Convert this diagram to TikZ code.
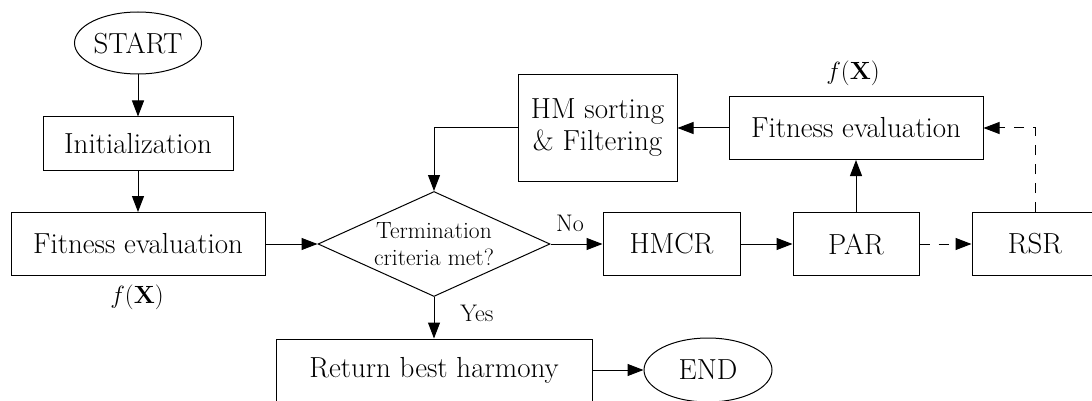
\documentclass[tikz,border=0pt]{standalone}
\usetikzlibrary{arrows.meta,shapes.geometric}
\tikzset{
  base/.style={draw, line width=1pt, inner sep=0pt, align=center,
    font=\fontsize{29}{32}\selectfont},
  box/.style={base, rectangle},
  oval/.style={base, ellipse},
  decision/.style={base, diamond, aspect=2.2,
    font=\fontsize{23.5}{27}\selectfont},
  conn/.style={line width=1pt, -{Triangle[length=16pt,width=12pt]}},
  dconn/.style={conn, dash pattern=on 10pt off 9pt},
  lbl/.style={inner sep=0pt, font=\fontsize{24}{26}\selectfont},
  fx/.style={inner sep=0pt, font=\fontsize{25}{28}\selectfont},
}
\begin{document}
\begin{tikzpicture}[x=1pt,y=-1pt]
\useasboundingbox (0,0) rectangle (1092,401);
\clip (0,0) rectangle (1092,401);
\node[oval, minimum width=127pt, minimum height=62pt] (start) at (138,43) {START};
\node[box, minimum width=190pt, minimum height=53pt] (init) at (138,143.5) {Initialization};
\node[box, minimum width=254pt, minimum height=63pt] (fit1) at (138,244) {Fitness evaluation};
\node[fx] (fx1) at (137,297) {$f(\mathbf{X})$};
\node[decision, minimum width=232pt, minimum height=105pt] (dia) at (434,244) {Termination\\criteria met?};
\node[box, minimum width=137pt, minimum height=63pt] (hmcr) at (671.5,244) {HMCR};
\node[box, minimum width=126pt, minimum height=63pt] (par) at (856,244) {PAR};
\node[box, minimum width=126pt, minimum height=63pt] (rsr) at (1035,244) {RSR};
\node[box, minimum width=254pt, minimum height=63pt] (fit2) at (856,128) {Fitness evaluation};
\node[fx] (fx2) at (853,73) {$f(\mathbf{X})$};
\node[box, minimum width=159pt, minimum height=106pt] (hm) at (597.5,128) {HM sorting\\\& Filtering};
\node[box, minimum width=316pt, minimum height=62pt] (ret) at (434,370) {Return best harmony};
\node[oval, minimum width=128pt, minimum height=64pt] (end) at (708,370) {END};
\node[lbl] (no) at (570,223) {No};
\node[lbl] (yes) at (477,313) {Yes};

\draw[conn] (start) -- (init);
\draw[conn] (init) -- (fit1);
\draw[conn] (fit1) -- (dia.west);
\draw[conn] (dia.east) -- (hmcr);
\draw[conn] (hmcr) -- (par);
\draw[dconn] (par) -- (rsr);
\draw[conn] (par) -- (fit2);
\draw[dconn] (rsr.north) -- (rsr.north |- fit2.east) -- (fit2.east);
\draw[conn] (fit2) -- (hm);
\draw[conn] (hm.west) -- (dia.north |- hm.west) -- (dia.north);
\draw[conn] (dia.south) -- (ret.north);
\draw[conn] (ret) -- (end);
\end{tikzpicture}
\end{document}
